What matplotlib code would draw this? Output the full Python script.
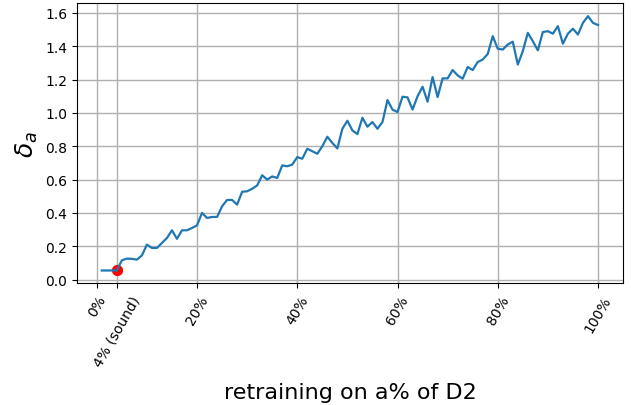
import matplotlib
matplotlib.use('Agg')
import matplotlib.pyplot as plt
import numpy as np

# retraining fraction (%) and measured delta_a
pct = list(range(1, 101))
delta_a = [0.055, 0.055, 0.055, 0.055, 0.116, 0.126, 0.125, 0.120, 0.145, 0.210,
           0.190, 0.190, 0.220, 0.250, 0.296, 0.245, 0.296, 0.296, 0.310, 0.326,
           0.400, 0.370, 0.376, 0.376, 0.440, 0.478, 0.478, 0.450, 0.527, 0.530,
           0.545, 0.565, 0.626, 0.600, 0.619, 0.610, 0.685, 0.680, 0.690, 0.735,
           0.725, 0.785, 0.770, 0.755, 0.800, 0.857, 0.820, 0.787, 0.905, 0.953,
           0.895, 0.873, 0.971, 0.917, 0.945, 0.905, 0.945, 1.077, 1.020, 1.005,
           1.097, 1.093, 1.020, 1.100, 1.157, 1.067, 1.215, 1.095, 1.207, 1.207,
           1.257, 1.225, 1.205, 1.275, 1.257, 1.305, 1.320, 1.353, 1.460, 1.385,
           1.380, 1.410, 1.427, 1.290, 1.370, 1.480, 1.430, 1.375, 1.485, 1.490,
           1.475, 1.520, 1.415, 1.475, 1.505, 1.470, 1.540, 1.580, 1.540, 1.527]

sound_x = 4
sound_y = 0.055

tick_pos = [0, 4, 20, 40, 60, 80, 100]
tick_labels = ['0%', '4% (sound)', '20%', '40%', '60%', '80%', '100%']

fig, ax = plt.subplots(figsize=(6.31, 4.06), dpi=100)
fig.subplots_adjust(left=0.122, right=0.987, top=0.989, bottom=0.30)

ax.scatter([sound_x], [sound_y], color='red', s=50, zorder=1)
ax.plot(pct, delta_a, color='tab:blue', lw=1.6, zorder=2)

ax.set_xticks(tick_pos)
ax.set_xticklabels(tick_labels, rotation=60)
ax.set_yticks(np.arange(0, 1.61, 0.2))
ax.grid(True, lw=1.0)
ax.set_axisbelow(True)

ax.set_xlabel('retraining on a% of D2', fontsize=16, labelpad=10)
ax.set_ylabel(r'$\delta_a$', fontsize=18)

fig.savefig('out.png', dpi=100)
